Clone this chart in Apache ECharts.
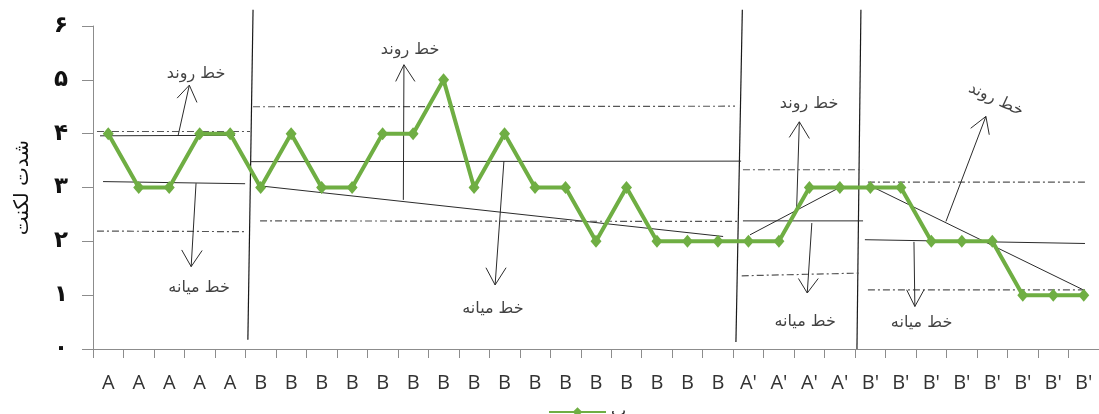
<!DOCTYPE html>
<html>
<head>
<meta charset="utf-8">
<script src="https://cdn.jsdelivr.net/npm/echarts@6/dist/echarts.min.js"></script>
<style>
html,body{margin:0;padding:0;background:#fff;}
#chart{width:1099px;height:414px;}
</style>
</head>
<body>
<div id="chart"></div>
<script>
// ---- data ----
const categories = ['A','A','A','A','A',
  'B','B','B','B','B','B','B','B','B','B','B','B','B','B','B','B',
  "A'","A'","A'","A'",
  "B'","B'","B'","B'","B'","B'","B'","B'"];
const valuesA = [4,3,3,4,4];
const valuesB = [3,4,3,3,4,4,5,3,4,3,3,2,3,2,2,2];
const valuesA2 = [2,2,3,3];
const valuesB2 = [3,3,2,2,2,1,1,1];
const seriesName = 'ب';
const yTickLabels = ['۰','۱','۲','۳','۴','۵','۶'];
const yAxisTitle = 'شدت لکنت';
const trendText = 'خط روند';
const medianText = 'خط میانه';

// annotation segments in data space: [x1, y1, x2, y2] (x = category position)
const phaseSeparators = [
  [4.75, 6.30, 4.58, 0.17],
  [20.80, 6.30, 20.59, 0.13],
  [24.69, 6.30, 24.56, 0.00]
];
const solidLines = [
  [-0.27, 3.96, 4.16, 3.97],
  [-0.17, 3.11, 4.49, 3.07],
  [4.65, 3.48, 20.76, 3.49],
  [4.98, 3.03, 20.17, 2.09],
  [20.82, 2.38, 24.76, 2.38],
  [21.05, 2.12, 24.06, 3.02],
  [24.82, 2.03, 32.04, 1.96],
  [24.93, 3.05, 31.98, 1.10]
];
const dashDotLines = [
  [-0.37, 4.04, 4.65, 4.04],
  [-0.37, 2.19, 4.55, 2.18],
  [4.75, 4.50, 20.56, 4.51],
  [4.98, 2.38, 20.63, 2.37],
  [20.82, 3.33, 24.76, 3.33],
  [20.78, 1.36, 24.66, 1.41],
  [24.92, 3.10, 32.04, 3.10],
  [24.92, 1.10, 32.04, 1.10]
];
// arrows: [fromX, fromY, tipX, tipY, leftArmX, leftArmY, rightArmX, rightArmY]
const arrows = [
  [2.29, 3.96, 2.66, 4.90, 2.26, 4.66, 2.91, 4.58],
  [2.88, 3.08, 2.72, 1.53, 2.41, 1.84, 3.08, 1.83],
  [9.68, 2.77, 9.70, 5.28, 9.43, 4.97, 10.06, 4.97],
  [12.98, 3.49, 12.69, 1.19, 12.39, 1.51, 13.05, 1.51],
  [22.58, 2.58, 22.67, 4.22, 22.34, 3.93, 23.00, 3.91],
  [23.08, 2.34, 22.93, 1.04, 22.64, 1.31, 23.29, 1.31],
  [27.48, 2.37, 28.79, 4.32, 28.29, 4.10, 28.90, 3.98],
  [26.43, 1.99, 26.46, 0.79, 26.19, 1.10, 26.76, 1.10]
];
// notes: [x, y, text, rotation]
const notes = [
  [2.88, 5.11, trendText, 0],
  [2.98, 1.13, medianText, 0],
  [9.90, 5.56, trendText, 0],
  [12.62, 0.74, medianText, 0],
  [22.99, 4.55, trendText, 0],
  [22.86, 0.51, medianText, 0],
  [29.12, 4.63, trendText, -25],
  [26.68, 0.48, medianText, 0]
];

// ---- chart ----
const mainValues = [].concat(valuesA, valuesB, valuesA2, valuesB2);
const series = [];
function seg(s, color, width, type, z) {
  series.push({
    type: 'line', xAxisIndex: 1, yAxisIndex: 0,
    data: [[s[0], s[1]], [s[2], s[3]]],
    symbol: 'none', silent: true, clip: false, animation: false,
    lineStyle: { color: color, width: width, type: type },
    z: z
  });
}
phaseSeparators.forEach(s => seg(s, '#1a1a1a', 1.2, 'solid', 3));
solidLines.forEach(s => seg(s, '#2b2b2b', 1, 'solid', 3));
dashDotLines.forEach(s => seg(s, '#555555', 1.2, [7, 3, 2, 3], 3));
arrows.forEach(a => {
  seg([a[0], a[1], a[2], a[3]], '#2b2b2b', 1, 'solid', 3);
  seg([a[4], a[5], a[2], a[3]], '#2b2b2b', 1, 'solid', 3);
  seg([a[6], a[7], a[2], a[3]], '#2b2b2b', 1, 'solid', 3);
});
series.push({
  type: 'scatter', xAxisIndex: 1, yAxisIndex: 0, symbolSize: 0, silent: true,
  data: notes.map(n => ({ value: [n[0], n[1]], name: n[2],
    label: { rotate: n[3] } })),
  label: {
    show: true, position: 'inside', formatter: p => p.name,
    color: '#111', fontSize: 16, fontFamily: 'DejaVu Sans'
  },
  z: 4
});
series.push({
  name: seriesName, type: 'line', xAxisIndex: 0, yAxisIndex: 0,
  data: mainValues,
  symbol: 'diamond', symbolSize: [11, 13],
  lineStyle: { color: '#6FAE43', width: 4 },
  itemStyle: { color: '#6FAE43' },
  z: 10
});

const chart = echarts.init(document.getElementById('chart'));
chart.setOption({
  animation: false,
  backgroundColor: '#fff',
  grid: { left: 93, right: 0, top: 26, bottom: 65, containLabel: false },
  legend: {
    data: [seriesName], left: 543, top: 399,
    itemWidth: 57, itemHeight: 12, itemGap: 6,
    textStyle: { fontSize: 16, color: '#222', fontFamily: 'DejaVu Sans' }
  },
  xAxis: [
    {
      type: 'category', data: categories, boundaryGap: true,
      axisLine: { onZero: false, lineStyle: { color: '#8c8c8c', width: 1 } },
      axisTick: { show: true, interval: 0, length: 9, lineStyle: { color: '#8c8c8c' } },
      axisLabel: { interval: 0, margin: 24, fontSize: 20, color: '#333', fontFamily: 'Open Sans' },
      splitLine: { show: false }
    },
    { type: 'value', min: -0.5, max: 32.5, show: false }
  ],
  yAxis: {
    type: 'value', min: 0, max: 6, interval: 1,
    name: yAxisTitle, nameLocation: 'middle', nameGap: 60, nameRotate: 90,
    nameTextStyle: { fontSize: 20, color: '#111', fontFamily: 'DejaVu Sans' },
    axisLine: { show: true, onZero: false, lineStyle: { color: '#8c8c8c', width: 1 } },
    axisTick: { show: true, length: 11, lineStyle: { color: '#8c8c8c' } },
    axisLabel: { margin: 25, fontSize: 23, fontWeight: 'bold', color: '#111',
      fontFamily: 'DejaVu Sans', formatter: v => yTickLabels[v] },
    splitLine: { show: false }
  },
  series: series
});
</script>
</body>
</html>
